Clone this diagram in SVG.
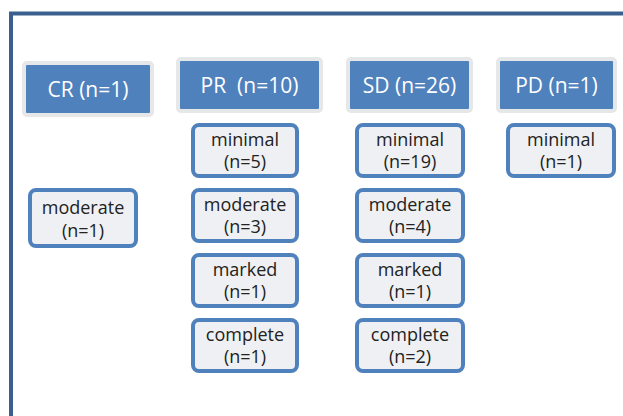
<svg xmlns="http://www.w3.org/2000/svg" width="623" height="416" viewBox="0 0 623 416">
<style>
.hd{fill:#4f81bd;stroke:#e6e7e9;stroke-width:4}
.sb{fill:#eef0f3;stroke:#4f81bd;stroke-width:4}
.ht{font-family:"Open Sans","Liberation Sans",sans-serif;font-size:21px;fill:#ffffff;text-anchor:middle}
.st{font-family:"Open Sans","Liberation Sans",sans-serif;font-size:18px;fill:#222222;text-anchor:middle}
</style>
<rect width="623" height="416" fill="#ffffff"/>
<path d="M11 416 V13.5 H623" fill="none" stroke="#3b6090" stroke-width="4"/>
<g id="connectors"></g>
<g id="cr"><rect class="hd" x="24" y="63" width="128" height="52" rx="3"/><text class="ht" x="88" y="97">CR (n=1)</text></g>
<g id="pr"><rect class="hd" x="178" y="59" width="143" height="52" rx="3"/><text class="ht" x="249.5" y="93" xml:space="preserve">PR  (n=10)</text></g>
<g id="sd"><rect class="hd" x="348" y="59" width="123" height="52" rx="3"/><text class="ht" x="409.5" y="93">SD (n=26)</text></g>
<g id="pd"><rect class="hd" x="498" y="59" width="117" height="52" rx="3"/><text class="ht" x="556.5" y="93">PD (n=1)</text></g>
<g id="cr-moderate"><rect class="sb" x="30" y="190" width="106" height="56" rx="6"/><text class="st" x="83" y="214">moderate</text><text class="st" x="83" y="237">(n=1)</text></g>
<g id="pr-minimal"><rect class="sb" x="193" y="125" width="104" height="51" rx="6"/><text class="st" x="245" y="146">minimal</text><text class="st" x="245" y="168">(n=5)</text></g>
<g id="pr-moderate"><rect class="sb" x="193" y="190" width="104" height="51" rx="6"/><text class="st" x="245" y="211">moderate</text><text class="st" x="245" y="233">(n=3)</text></g>
<g id="pr-marked"><rect class="sb" x="193" y="255" width="104" height="51" rx="6"/><text class="st" x="245" y="276">marked</text><text class="st" x="245" y="298">(n=1)</text></g>
<g id="pr-complete"><rect class="sb" x="193" y="320" width="104" height="51" rx="6"/><text class="st" x="245" y="341">complete</text><text class="st" x="245" y="363">(n=1)</text></g>
<g id="sd-minimal"><rect class="sb" x="357" y="125" width="106" height="51" rx="6"/><text class="st" x="410" y="146">minimal</text><text class="st" x="410" y="168">(n=19)</text></g>
<g id="sd-moderate"><rect class="sb" x="357" y="190" width="106" height="51" rx="6"/><text class="st" x="410" y="211">moderate</text><text class="st" x="410" y="233">(n=4)</text></g>
<g id="sd-marked"><rect class="sb" x="357" y="255" width="106" height="51" rx="6"/><text class="st" x="410" y="276">marked</text><text class="st" x="410" y="298">(n=1)</text></g>
<g id="sd-complete"><rect class="sb" x="357" y="320" width="106" height="51" rx="6"/><text class="st" x="410" y="341">complete</text><text class="st" x="410" y="363">(n=2)</text></g>
<g id="pd-minimal"><rect class="sb" x="508" y="125" width="106" height="51" rx="6"/><text class="st" x="561" y="146">minimal</text><text class="st" x="561" y="168">(n=1)</text></g>
</svg>
